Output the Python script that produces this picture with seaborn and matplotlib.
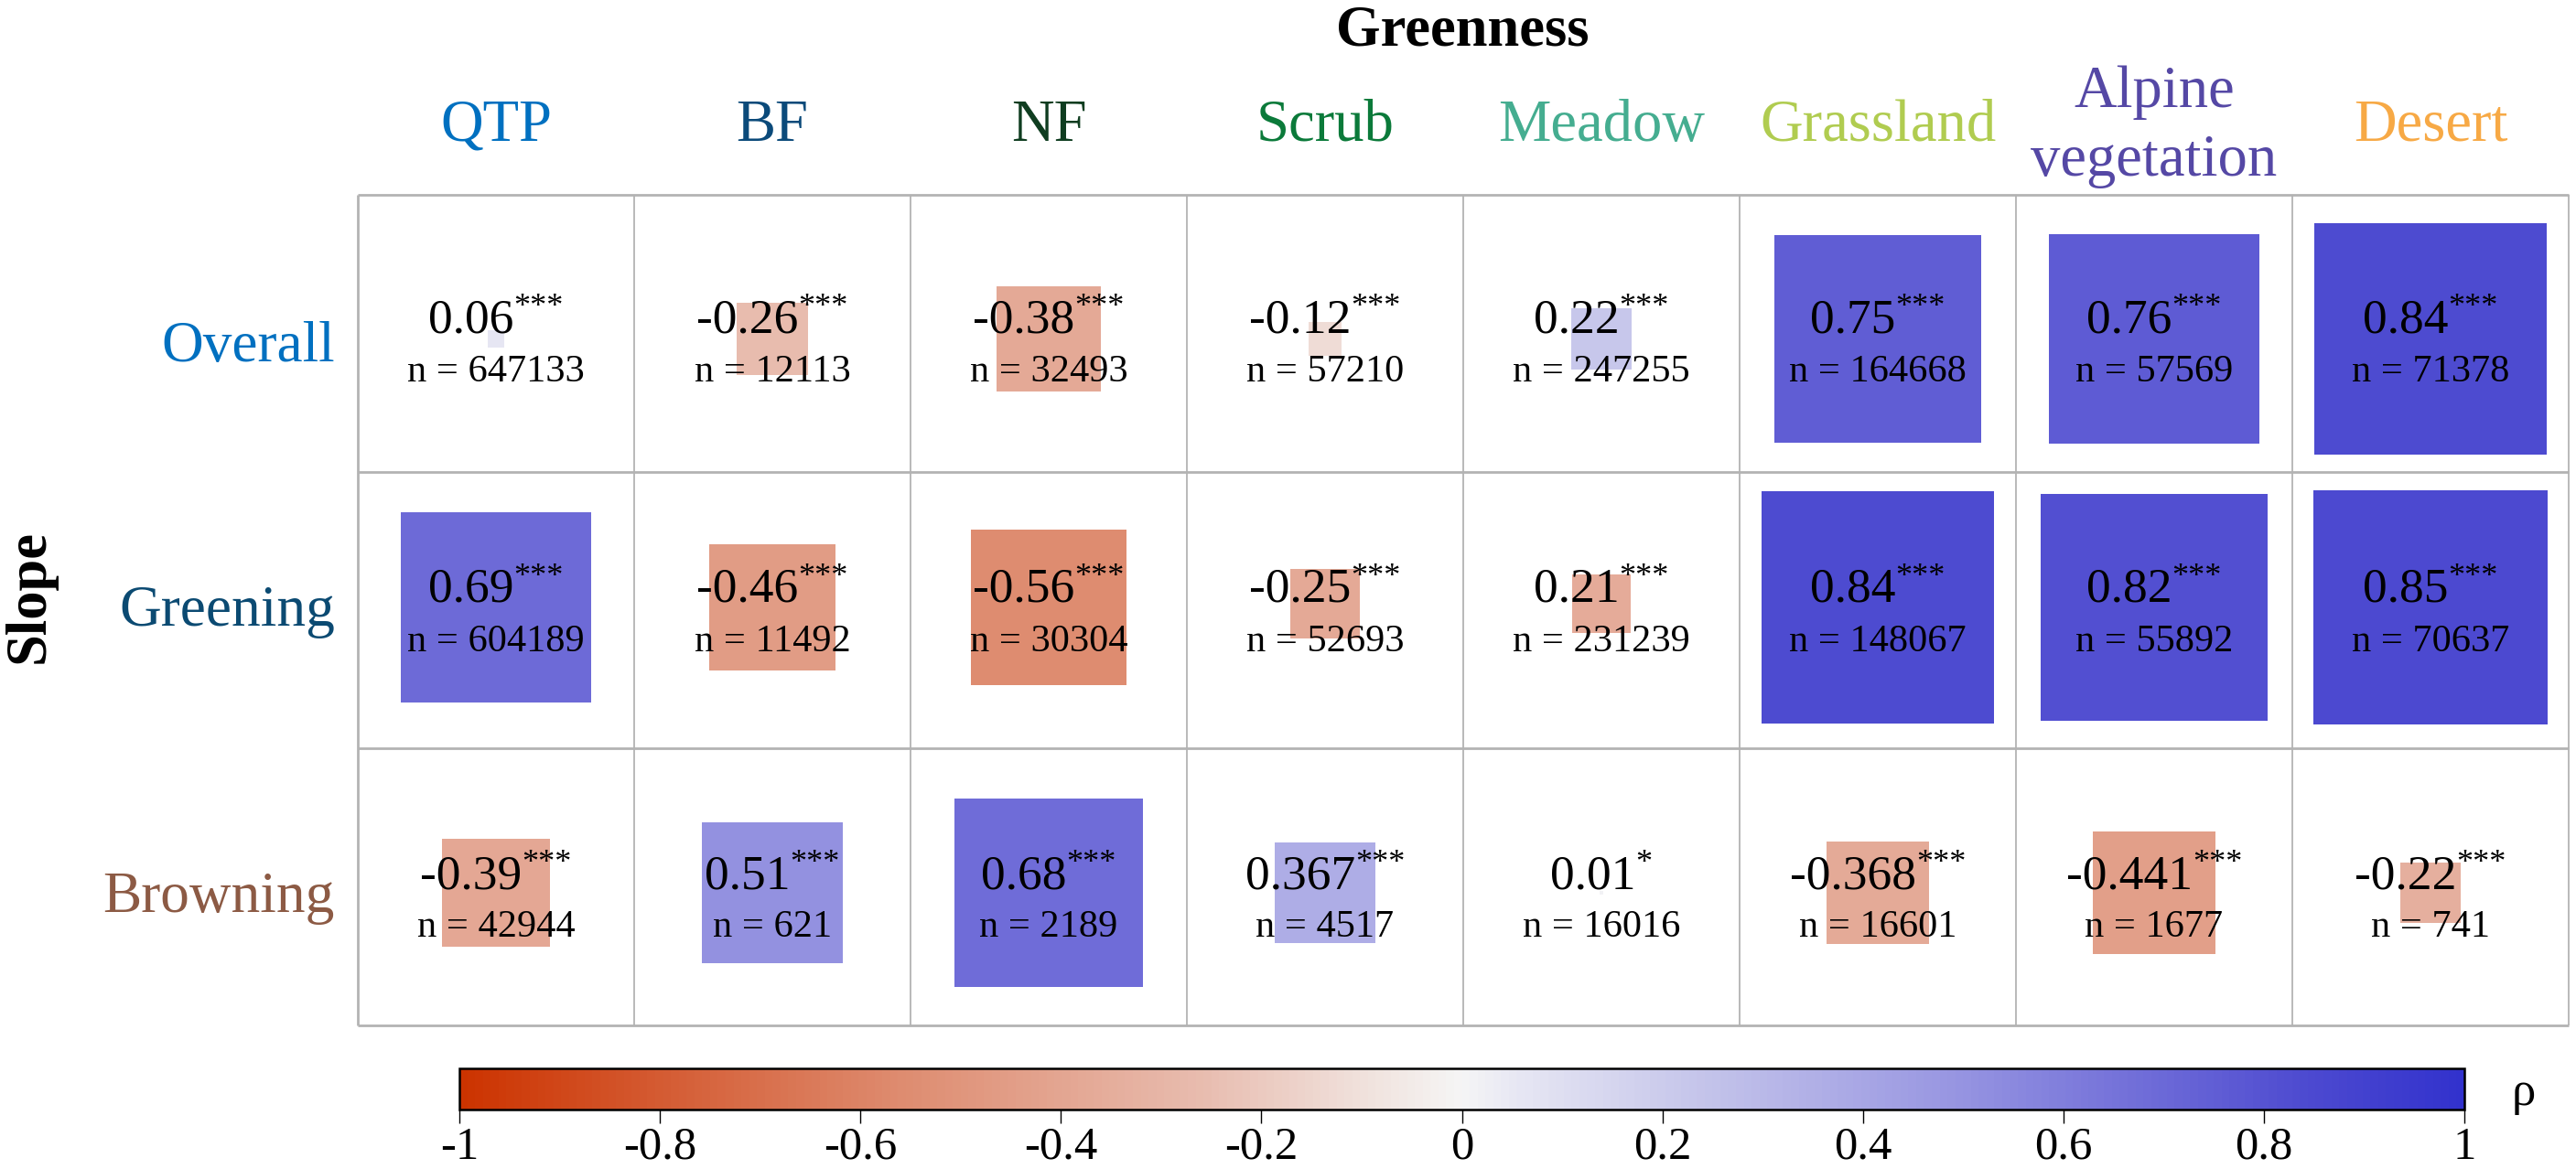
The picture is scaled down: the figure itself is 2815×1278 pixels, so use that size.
import numpy as np
import pandas as pd
import matplotlib
matplotlib.use('Agg')
import matplotlib.pyplot as plt
from matplotlib.cm import ScalarMappable
from matplotlib.colors import LinearSegmentedColormap, Normalize
import seaborn as sns

# Data
columns = ['QTP', 'BF', 'NF', 'Scrub', 'Meadow', 'Grassland', 'Alpine\nvegetation', 'Desert']
rows = ['Overall', 'Greening', 'Browning']

overall_rho = ['0.06', '-0.26', '-0.38', '-0.12', '0.22', '0.75', '0.76', '0.84']
greening_rho = ['0.69', '-0.46', '-0.56', '-0.25', '0.21', '0.84', '0.82', '0.85']
browning_rho = ['-0.39', '0.51', '0.68', '0.367', '0.01', '-0.368', '-0.441', '-0.22']

# Colour of each square as it reads on the colour bar (not always the printed value)
overall_shade = [0.06, -0.26, -0.38, -0.12, 0.22, 0.75, 0.76, 0.84]
greening_shade = [0.69, -0.46, -0.56, -0.38, -0.36, 0.84, 0.82, 0.85]
browning_shade = [-0.39, 0.51, 0.68, 0.367, 0.01, -0.368, -0.441, -0.34]

overall_n = [647133, 12113, 32493, 57210, 247255, 164668, 57569, 71378]
greening_n = [604189, 11492, 30304, 52693, 231239, 148067, 55892, 70637]
browning_n = [42944, 621, 2189, 4517, 16016, 16601, 1677, 741]

overall_sig = ['***'] * 8
greening_sig = ['***'] * 8
browning_sig = ['***', '***', '***', '***', '*', '***', '***', '***']

cbar_ticks = [-1, -0.8, -0.6, -0.4, -0.2, 0, 0.2, 0.4, 0.6, 0.8, 1]
cbar_labels = ['-1', '-0.8', '-0.6', '-0.4', '-0.2', '0', '0.2', '0.4', '0.6', '0.8', '1']

column_colors = ['#0070c0', '#0b4a7a', '#0f3d20', '#0b7a3a', '#45ad90', '#b0cc50', '#5548a5', '#f7a945']
row_colors = ['#0070c0', '#0b4a72', '#8c5a44']

rho_table = [overall_rho, greening_rho, browning_rho]
shade_table = [overall_shade, greening_shade, browning_shade]
n_table = [overall_n, greening_n, browning_n]
sig_table = [overall_sig, greening_sig, browning_sig]

# Layout in pixels of the 2815x1278 picture
W, H = 2815, 1278
GRID_L, GRID_R, GRID_T, GRID_B = 391, 2807, 213, 1121
CELL_W = (GRID_R - GRID_L) / 8
CELL_H = (GRID_B - GRID_T) / 3
value_base = [363, 658, 971]
n_base = [417, 712, 1024]
label_base = [395, 684, 997]
square_mid = [370.5, 664, 976]

sns.set_theme(style='white')
plt.rcParams['font.family'] = ['Liberation Serif', 'DejaVu Sans']

fig = plt.figure(figsize=(W / 100, H / 100), dpi=100, facecolor='white')
ax = fig.add_axes([GRID_L / W, 1 - GRID_B / H, (GRID_R - GRID_L) / W, (GRID_B - GRID_T) / H])

cmap = LinearSegmentedColormap.from_list('rho', [
    (0.0, (204 / 255, 51 / 255, 0)),
    (0.22, (222 / 255, 140 / 255, 112 / 255)),
    (0.37, (232 / 255, 188 / 255, 175 / 255)),
    (0.45, (240 / 255, 225 / 255, 220 / 255)),
    (0.5, (245 / 255, 245 / 255, 245 / 255)),
    (0.53, (230 / 255, 230 / 255, 243 / 255)),
    (0.61, (200 / 255, 200 / 255, 235 / 255)),
    (0.75, (150 / 255, 148 / 255, 225 / 255)),
    (0.92, (78 / 255, 75 / 255, 208 / 255)),
    (1.0, (50 / 255, 50 / 255, 205 / 255)),
])

# Long table for the squares: side follows |rho|, colour follows the shade
records = []
for r, row in enumerate(rows):
    for c, col in enumerate(columns):
        rho = float(rho_table[r][c])
        mid = square_mid[r]
        # these two sit a little higher in the original
        if row == 'Greening' and col in ('Scrub', 'Meadow'):
            mid = 660
        records.append({'x': c + 0.5, 'y': (mid - GRID_T) / CELL_H,
                        'shade': shade_table[r][c], 'area': rho ** 2})
df = pd.DataFrame(records)

cell_pts = CELL_W * 72 / 100
sns.scatterplot(data=df, x='x', y='y', hue='shade', hue_norm=(-1, 1), palette=cmap,
                size='area', size_norm=(0, 1), sizes=(0, cell_pts ** 2),
                marker='s', linewidth=0, legend=False, ax=ax, zorder=1)

ax.set_xlim(0, 8)
ax.set_ylim(3, 0)
ax.set_xticks([])
ax.set_yticks([])
ax.set_xlabel('')
ax.set_ylabel('')
for s in ax.spines.values():
    s.set_visible(False)

# Cell borders
ax.vlines(np.arange(1, 9), 0, 3, color='#b3b3b3', linewidth=1.3, zorder=2, clip_on=False)
ax.vlines([0], 0, 3, color='#b3b3b3', linewidth=2.0, zorder=2, clip_on=False)
ax.hlines(np.arange(0, 4), 0, 8, color='#b3b3b3', linewidth=2.0, zorder=2, clip_on=False)


def put(px, py, s, **kw):
    return fig.text(px / W, 1 - py / H, s, va=kw.pop('va', 'baseline'), **kw)


renderer = fig.canvas.get_renderer()

# Cell texts
for r in range(3):
    for c in range(8):
        cx = GRID_L + CELL_W * (c + 0.5)
        val = put(0, 0, rho_table[r][c], fontsize=38.5, color='black', ha='left')
        star = put(0, 0, sig_table[r][c], fontsize=26, color='black', ha='left')
        w_val = val.get_window_extent(renderer).width
        w_star = star.get_window_extent(renderer).width
        left = cx - (w_val + w_star) / 2
        val.set_position((left / W, 1 - value_base[r] / H))
        star.set_position(((left + w_val) / W, 1 - (value_base[r] - 18) / H))
        put(cx, n_base[r], f'n = {n_table[r][c]}', fontsize=30.5, color='black', ha='center')

# Column headers
for c, name in enumerate(columns):
    cx = GRID_L + CELL_W * (c + 0.5)
    lines = name.split('\n')
    bases = [154] if len(lines) == 1 else [117, 192]
    for line, b in zip(lines, bases):
        put(cx, b, line, fontsize=46.5, color=column_colors[c], ha='center')

# Row headers
for r, name in enumerate(rows):
    put(366, label_base[r], name, fontsize=45.5, color=row_colors[r], ha='right')

put(1598, 50, 'Greenness', fontsize=45, fontweight='bold', color='black', ha='center')
put(33, 652, 'Slope', fontsize=45, fontweight='bold', color='black', ha='center',
    va='center', rotation=90)

# Colour bar
cax = fig.add_axes([502 / W, 1 - 1213 / H, 2191 / W, 45 / H])
cbar = fig.colorbar(ScalarMappable(norm=Normalize(-1, 1), cmap=cmap), cax=cax, orientation='horizontal')
cbar.set_ticks(cbar_ticks)
cbar.set_ticklabels(cbar_labels)
# labels stay just inside the bottom edge of the figure
cax.tick_params(axis='x', bottom=True, length=10.5, width=1.0, color='black',
                labelsize=36.5, labelcolor='black', pad=2.5)
cbar.outline.set_edgecolor('black')
cbar.outline.set_linewidth(1.8)
put(2745, 1208, 'ρ', fontsize=38, color='black', ha='left')

fig.savefig('out.png', dpi=100, facecolor='white')
